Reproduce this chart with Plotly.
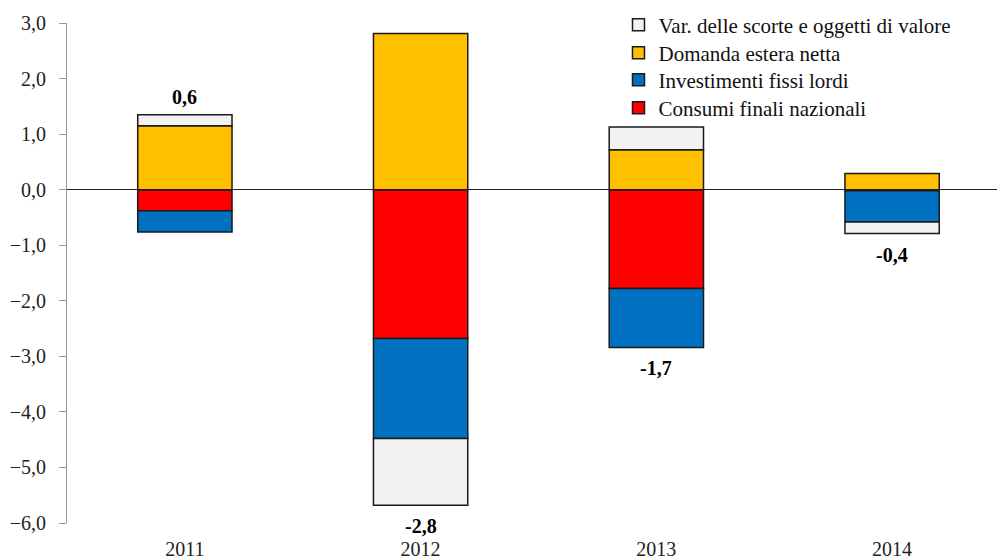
import plotly.graph_objects as go

years = ["2011", "2012", "2013", "2014"]
consumi = [-0.38, -2.68, -1.78, -0.02]
investimenti = [-0.38, -1.80, -1.06, -0.56]
domanda_estera = [1.15, 2.81, 0.72, 0.29]
var_scorte = [0.20, -1.20, 0.41, -0.21]
totali = ["0,6", "-2,8", "-1,7", "-0,4"]

series = [
    ("Consumi finali nazionali", consumi, "#FF0000"),
    ("Investimenti fissi lordi", investimenti, "#0070C0"),
    ("Domanda estera netta", domanda_estera, "#FFC000"),
    ("Var. delle scorte e oggetti di valore", var_scorte, "#F2F2F2"),
]

FONT = "Times New Roman, Liberation Serif, Times, serif"

# one single-entry legend per series, so the rows can be spaced like the original
legend_ids = ["legend4", "legend3", "legend2", "legend"]
legend_rows_y = [0.830, 0.886, 0.940, 0.996]

fig = go.Figure()
for (name, vals, col), lid in zip(series, legend_ids):
    fig.add_trace(go.Bar(
        x=years, y=vals, name=name, legend=lid,
        marker=dict(color=col, line=dict(color="#1a1a1a", width=1.5)),
        width=0.40,
    ))

annotations = []
for i, yr in enumerate(years):
    pos = sum(v[i] for _, v, _ in series if v[i] > 0)
    neg = sum(v[i] for _, v, _ in series if v[i] < 0)
    total = sum(v[i] for _, v, _ in series)
    up = total >= 0
    annotations.append(dict(
        xref="x", yref="y", x=i, y=pos if up else neg,
        text="<b>" + totali[i] + "</b>", showarrow=False,
        yanchor="bottom" if up else "top", yshift=5 if up else -8,
        font=dict(family=FONT, size=20, color="#000"),
    ))

legend_style = dict(
    x=0.593, xanchor="left", yanchor="middle",
    font=dict(family=FONT, size=21, color="#111"),
    bgcolor="rgba(0,0,0,0)", itemwidth=30,
)

layout_legends = {}
for lid, ly in zip(legend_ids, legend_rows_y):
    layout_legends[lid] = dict(legend_style, y=ly)

fig.update_layout(
    width=997, height=560,
    barmode="relative",
    separators=",.",
    paper_bgcolor="white", plot_bgcolor="white",
    margin=dict(l=67, r=0, t=23, b=37),
    font=dict(family=FONT, size=20, color="#222"),
    annotations=annotations,
    showlegend=True,
    **layout_legends,
    xaxis=dict(
        type="category",
        range=[-0.5, 3.445],
        showline=False, showgrid=False, zeroline=False,
        ticks="", ticklabelstandoff=12,
        tickfont=dict(family=FONT, size=20, color="#222"),
    ),
    yaxis=dict(
        range=[-6, 3], dtick=1, tickformat=".1f",
        showgrid=False,
        showline=True, linecolor="#999", linewidth=1,
        ticks="outside", ticklen=7, tickcolor="#999",
        ticklabelstandoff=9,
        zeroline=True, zerolinecolor="#222", zerolinewidth=1,
        tickfont=dict(family=FONT, size=20, color="#222"),
    ),
)

fig.write_html("out.html")
